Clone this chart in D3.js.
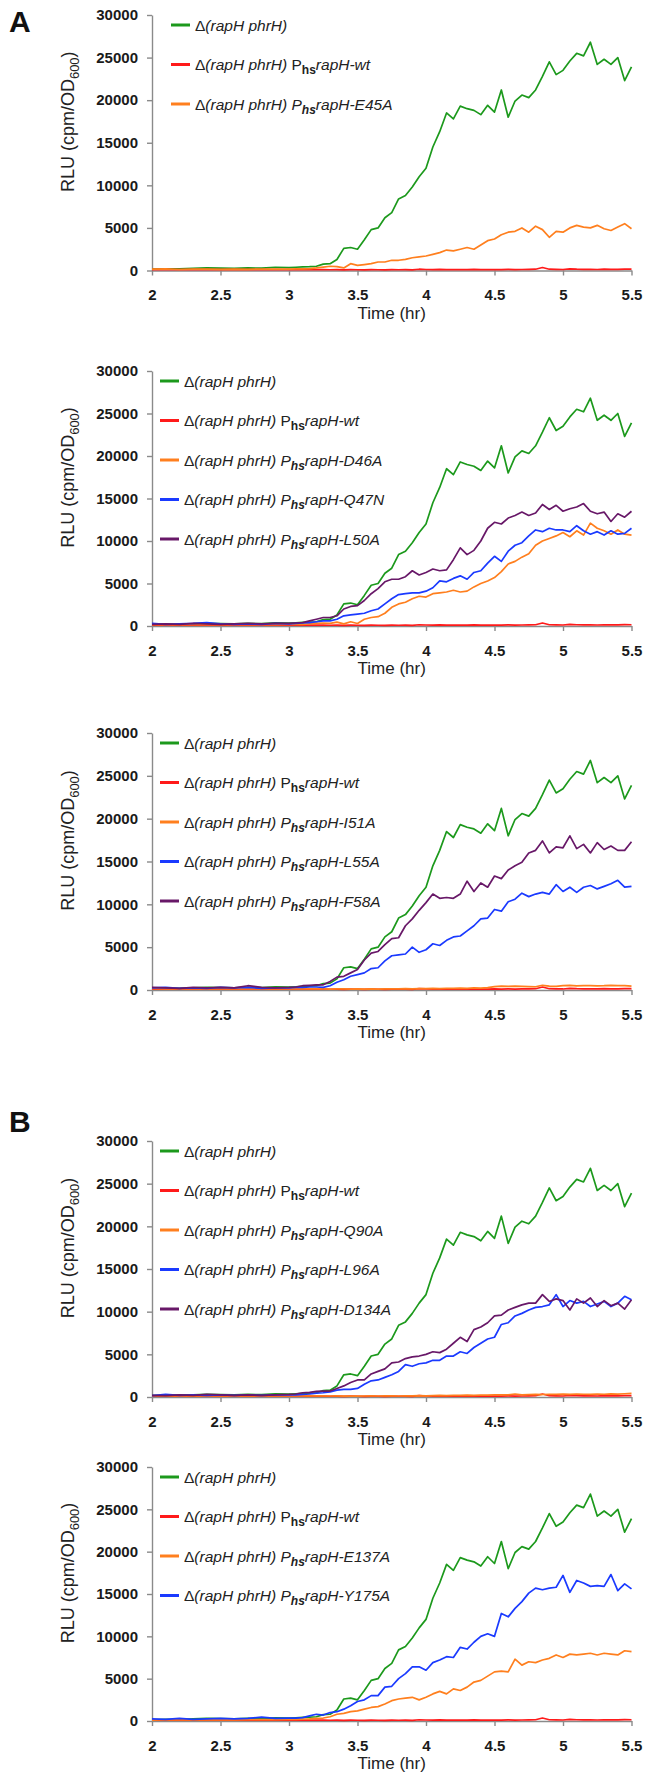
<!DOCTYPE html>
<html>
<head>
<meta charset="utf-8">
<script src="https://cdn.jsdelivr.net/npm/d3@7"></script>
<style>
  body { margin: 0; background: #fff; }
  svg { display: block; font-family: "Liberation Sans", Arial, sans-serif; }
</style>
</head>
<body>
<div id="chart"></div>
<script>
// time points (hr)
var time = [2.0,2.1,2.2,2.3,2.4,2.5,2.6,2.7,2.8,2.9,3.0,3.05,3.1,3.15,3.2,3.25,3.3,3.35,3.4,3.45,3.5,3.55,3.6,3.65,3.7,3.75,3.8,3.85,3.9,3.95,4.0,4.05,4.1,4.15,4.2,4.25,4.3,4.35,4.4,4.45,4.5,4.55,4.6,4.65,4.7,4.75,4.8,4.85,4.9,4.95,5.0,5.05,5.1,5.15,5.2,5.25,5.3,5.35,5.4,5.45,5.5];

// RLU values, cpm/OD600
var parent = [150,200,180,250,300,280,250,300,280,380,330,380,420,450,500,750,800,1300,2600,2700,2500,3600,4800,5000,6200,6800,8400,8800,9800,11000,12000,14500,16300,18500,17800,19300,19000,18800,18300,19400,18600,21200,18000,19900,20600,20300,21200,22800,24500,23000,23500,24600,25500,25200,26800,24200,24800,24200,25000,22300,23900];
var wt = [100,120,100,110,100,120,100,110,100,120,100,110,100,120,100,110,90,100,80,100,90,80,100,90,80,100,90,100,80,150,120,100,130,110,100,120,100,130,100,110,120,100,130,110,120,130,150,350,150,130,120,200,150,130,140,120,150,130,140,160,150];
var e45a = [150,180,120,160,150,130,160,140,170,150,160,180,200,220,300,400,500,450,300,800,600,700,800,1000,1000,1200,1200,1300,1500,1600,1700,1900,2100,2400,2300,2500,2700,2500,3000,3500,3700,4200,4500,4600,5000,4500,5200,4800,3900,4600,4500,5000,5300,5100,5000,5300,4900,4700,5100,5500,4900];
var d46a = [150,180,150,170,150,180,160,150,170,160,200,180,200,250,300,350,300,450,250,500,300,800,1000,1100,1500,2200,2600,2800,3200,3500,3400,3800,3900,4000,4200,4000,4100,4600,5000,5300,5700,6400,7300,7600,8100,8500,9500,10000,10300,10600,11000,10500,11200,10700,12100,11500,11200,10800,11300,10800,10700];
var q47n = [300,200,250,300,400,250,200,250,200,300,250,300,350,400,500,600,600,800,1200,1300,1400,1500,1800,2000,2600,3200,3700,3800,3900,3900,4100,4500,5300,5200,5600,5900,5500,6300,6500,7400,8200,7600,8800,9500,9800,10600,11300,11100,11500,11300,11300,11100,11800,11200,10800,11100,10700,11200,10800,10900,11500];
var l50a = [200,250,200,300,250,200,250,300,250,300,300,350,400,600,800,1000,1000,1200,2000,2300,2400,3000,3800,4400,5200,5500,5500,5800,6500,6000,6300,6700,6500,6600,7800,9200,8400,8900,10000,11500,12200,12000,12700,13000,13400,13000,13300,14300,13700,14200,13500,13800,14000,14400,13500,13200,13400,12300,13200,12800,13500];
var i51a = [150,120,130,150,120,140,130,150,120,140,130,120,140,120,130,120,110,130,120,100,120,110,120,100,120,130,120,150,130,160,150,180,150,200,180,220,200,250,220,280,400,450,420,450,420,400,380,550,450,420,500,550,480,500,520,480,500,550,500,520,450];
var l55a = [250,300,200,250,200,300,250,300,200,250,250,300,300,350,350,300,500,900,1200,1600,1800,2000,2500,2600,3400,4000,4100,4200,5000,4400,4700,5400,5200,5800,6200,6300,6900,7500,8300,8400,9400,9200,10300,10600,11300,10900,11200,11400,11200,12300,11500,12000,11400,12000,12200,11800,12100,12400,12800,12000,12100];
var f58a = [300,250,200,300,250,300,250,500,300,250,300,350,500,550,600,600,1000,1500,1600,2000,2400,3500,4300,4500,5300,6000,6100,7500,8300,9300,10200,11200,10700,10800,10700,11200,12700,11500,12500,12000,13300,13000,14000,14500,14900,16000,16300,17400,16000,16700,16600,18000,16500,17000,16000,17200,16400,16800,16300,16300,17300];
var q90a = [120,150,130,140,120,150,130,140,120,150,130,140,130,150,130,140,120,130,110,120,110,120,130,120,140,130,120,140,130,150,140,160,180,170,200,190,210,200,230,220,250,240,260,350,260,280,300,290,320,300,330,310,350,320,300,340,320,360,340,380,420];
var l96a = [150,300,200,250,200,250,200,250,200,250,250,250,300,350,450,500,600,800,900,900,1000,1500,1900,2000,2300,2600,3000,3800,3600,3900,4000,4300,4300,4800,4800,5300,5100,5800,6300,6800,7000,8500,8700,9500,9800,10200,10500,10600,10800,12000,10600,11300,11000,11200,10600,10900,11200,10600,11000,11800,11400];
var d134a = [200,150,250,200,300,250,200,250,200,250,300,350,500,550,650,700,700,1000,1300,1700,2000,2000,2700,3000,3300,4000,4100,4500,4700,4800,5000,5300,5200,5600,6300,7000,6500,7900,8200,8700,9500,9600,10200,10500,10800,11000,11000,12000,11200,11500,11300,10200,11500,11000,11600,10600,11300,10700,11000,10300,11400];
var e137a = [100,150,120,150,130,160,140,150,160,170,180,200,220,250,300,350,500,800,900,1100,1200,1400,1600,1700,2000,2400,2600,2700,2800,2500,2800,3200,3500,3200,3800,3600,4000,4600,4800,5300,5800,5900,5800,7300,6600,7000,6900,7200,7400,7800,7500,7900,7800,7900,8000,7800,8000,7900,7800,8300,8200];
var y175a = [250,200,300,200,250,300,250,300,450,300,350,350,400,600,800,700,1000,1100,1400,1800,2300,2500,3000,3000,4000,4100,5000,5600,6400,6400,6000,6900,7200,7600,7500,8700,8500,9300,10000,10300,10000,12700,12300,13300,14100,15100,15700,15500,15700,15800,17200,15200,16600,16300,15900,16000,15900,17300,15400,16200,15600];

var xTicks = [2, 2.5, 3, 3.5, 4, 4.5, 5, 5.5];
var yTicks = [0, 5000, 10000, 15000, 20000, 25000, 30000];

var GREEN = "#1c991c", RED = "#ff1a1a", ORANGE = "#ff7f1e", BLUE = "#1a3aff", PURPLE = "#681868";

// each panel: kind of legend entry, mutant name, data
var panels = [
  {top: 15,   bottom: 270.5, letter: "A", legendX: 171, series: [
    {kind: "parent", data: parent, color: GREEN},
    {kind: "wt", data: wt, color: RED},
    {kind: "mut", name: "E45A", data: e45a, color: ORANGE}]},
  {top: 371,  bottom: 626, legendX: 160, series: [
    {kind: "parent", data: parent, color: GREEN},
    {kind: "wt", data: wt, color: RED},
    {kind: "mut", name: "D46A", data: d46a, color: ORANGE},
    {kind: "mut", name: "Q47N", data: q47n, color: BLUE},
    {kind: "mut", name: "L50A", data: l50a, color: PURPLE}]},
  {top: 733,  bottom: 990, legendX: 160, series: [
    {kind: "parent", data: parent, color: GREEN},
    {kind: "wt", data: wt, color: RED},
    {kind: "mut", name: "I51A", data: i51a, color: ORANGE},
    {kind: "mut", name: "L55A", data: l55a, color: BLUE},
    {kind: "mut", name: "F58A", data: f58a, color: PURPLE}]},
  {top: 1141, bottom: 1397, letter: "B", legendX: 160, series: [
    {kind: "parent", data: parent, color: GREEN},
    {kind: "wt", data: wt, color: RED},
    {kind: "mut", name: "Q90A", data: q90a, color: ORANGE},
    {kind: "mut", name: "L96A", data: l96a, color: BLUE},
    {kind: "mut", name: "D134A", data: d134a, color: PURPLE}]},
  {top: 1467, bottom: 1721, legendX: 160, series: [
    {kind: "parent", data: parent, color: GREEN},
    {kind: "wt", data: wt, color: RED},
    {kind: "mut", name: "E137A", data: e137a, color: ORANGE},
    {kind: "mut", name: "Y175A", data: y175a, color: BLUE}]}
];

var svg = d3.select("#chart").append("svg")
    .attr("width", 645)
    .attr("height", 1773);

var x = d3.scaleLinear().domain([2, 5.5]).range([152, 631.5]);

panels.forEach(function(p) {
  var y = d3.scaleLinear().domain([0, 30000]).range([p.bottom, p.top]);
  var g = svg.append("g");

  // y axis
  var ya = g.append("g")
      .attr("transform", "translate(" + x(2) + ",0)")
      .call(d3.axisLeft(y).tickValues(yTicks).tickSize(5).tickSizeOuter(0).tickPadding(9).tickFormat(d3.format("d")));
  // x axis
  var xa = g.append("g")
      .attr("transform", "translate(0," + y(0) + ")")
      .call(d3.axisBottom(x).tickValues(xTicks).tickSize(5).tickSizeOuter(0).tickPadding(14).tickFormat(d3.format("~g")));

  [ya, xa].forEach(function(a) {
    a.select(".domain").attr("stroke", "#8a8a8a").attr("stroke-width", 1.4);
    a.selectAll(".tick line").attr("stroke", "#8a8a8a").attr("stroke-width", 1.4);
    a.selectAll(".tick text")
      .attr("fill", "#1a1a1a")
      .style("font-size", "15px")
      .style("font-weight", "bold")
      .style("font-family", "'Liberation Sans', Arial, sans-serif");
  });

  // axis titles
  g.append("text")
      .attr("x", (x(2) + x(5.5)) / 2)
      .attr("y", y(0) + 48)
      .attr("text-anchor", "middle")
      .attr("fill", "#222")
      .style("font-size", "17px")
      .text("Time (hr)");

  var yt = g.append("text")
      .attr("transform", "translate(74," + ((p.top + p.bottom) / 2 - 21) + ") rotate(-90)")
      .attr("text-anchor", "middle")
      .attr("fill", "#222")
      .style("font-size", "18px");
  yt.append("tspan").text("RLU (cpm/OD");
  yt.append("tspan").attr("dy", 5).style("font-size", "13px").text("600");
  yt.append("tspan").attr("dy", -5).text(")");

  // lines
  var line = d3.line()
      .x(function(d, i) { return x(time[i]); })
      .y(function(d) { return y(d); });

  p.series.forEach(function(s) {
    g.append("path")
        .datum(s.data)
        .attr("fill", "none")
        .attr("stroke", s.color)
        .attr("stroke-width", 1.7)
        .attr("stroke-linejoin", "round")
        .attr("d", line);
  });

  // legend
  p.series.forEach(function(s, i) {
    var ly = p.top + 10 + i * 39.5;
    g.append("line")
        .attr("x1", p.legendX).attr("x2", p.legendX + 19)
        .attr("y1", ly).attr("y2", ly)
        .attr("stroke", s.color)
        .attr("stroke-width", 3);
    var t = g.append("text")
        .attr("x", p.legendX + 24)
        .attr("y", ly)
        .attr("dy", "0.36em")
        .attr("fill", "#222")
        .style("font-size", "15.5px");
    t.append("tspan").text("\u0394");
    t.append("tspan").style("font-style", "italic").text("(rapH phrH)");
    if (s.kind == "wt") {
      t.append("tspan").text(" P");
      t.append("tspan").attr("dy", 4).style("font-size", "12px").style("font-weight", "bold").text("hs");
      t.append("tspan").attr("dy", -4).style("font-style", "italic").text("rapH-wt");
    } else if (s.kind == "mut") {
      t.append("tspan").style("font-style", "italic").text(" P");
      t.append("tspan").attr("dy", 4).style("font-size", "12px").style("font-style", "italic").style("font-weight", "bold").text("hs");
      t.append("tspan").attr("dy", -4).style("font-style", "italic").text("rapH-" + s.name);
    }
  });

  if (p.letter) {
    svg.append("text")
        .attr("x", 9)
        .attr("y", p.letter == "A" ? 32 : 1132)
        .style("font-size", "30px")
        .style("font-weight", "bold")
        .attr("fill", "#111")
        .text(p.letter);
  }
});
</script>
</body>
</html>
